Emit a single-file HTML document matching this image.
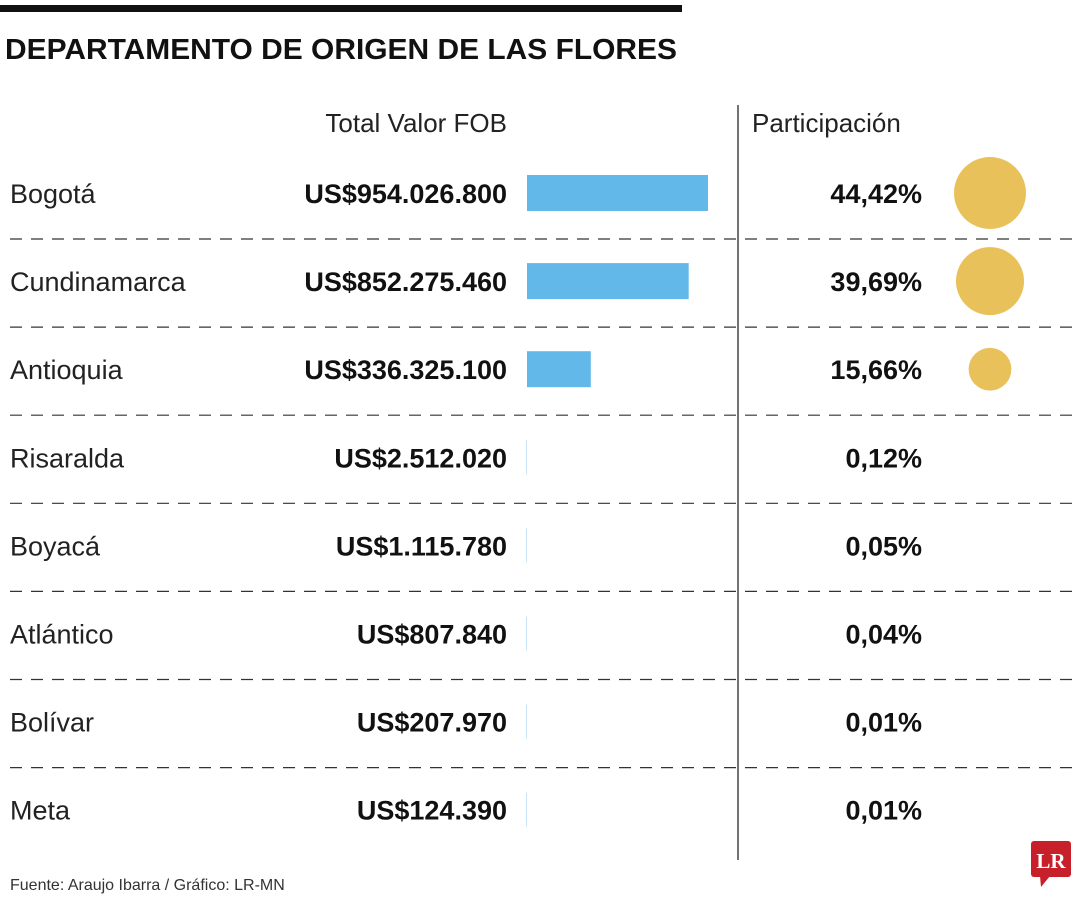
<!DOCTYPE html>
<html><head><meta charset="utf-8"><style>
body{margin:0;width:1080px;height:900px;background:#fff;font-family:"Liberation Sans",sans-serif;overflow:hidden}
svg text{font-family:"Liberation Sans",sans-serif}
</style></head><body>
<svg id="chart" width="1080" height="900">
<rect x="0" y="5" width="682" height="7" fill="#111"/>
<text x="5" y="59" font-size="29" font-weight="bold" fill="#111" textLength="672" lengthAdjust="spacingAndGlyphs">DEPARTAMENTO DE ORIGEN DE LAS FLORES</text>
<text x="507" y="132" font-size="26" text-anchor="end" fill="#222">Total Valor FOB</text>
<text x="752" y="132" font-size="26" fill="#222">Participación</text>
<line x1="738" y1="105" x2="738" y2="860" stroke="#444" stroke-width="1.5"/>
<g id="rows"></g>
<text x="10" y="890" font-size="16" fill="#333">Fuente: Araujo Ibarra / Gráfico: LR-MN</text>
<g>
<rect x="1031" y="841" width="40" height="36" rx="3" fill="#c8202a"/>
<polygon points="1040,876 1050,876 1041,887" fill="#c8202a"/>
<text x="1051" y="868" font-size="21" font-weight="bold" fill="#fff" text-anchor="middle" style="font-family:'Liberation Serif',serif">LR</text>
</g>
</svg>
<script>
const names=["Bogotá","Cundinamarca","Antioquia","Risaralda","Boyacá","Atlántico","Bolívar","Meta"];
const fobValues=[954026800,852275460,336325100,2512020,1115780,807840,207970,124390];
const fobLabels=["US$954.026.800","US$852.275.460","US$336.325.100","US$2.512.020","US$1.115.780","US$807.840","US$207.970","US$124.390"];
const shares=[44.42,39.69,15.66,0.12,0.05,0.04,0.01,0.01];
const shareLabels=["44,42%","39,69%","15,66%","0,12%","0,05%","0,04%","0,01%","0,01%"];
const NS="http://www.w3.org/2000/svg";
const g=document.getElementById('rows');
const rowY=i=>193+i*88.1;
const xBar=v=>v/954026800*181;
const rCircle=p=>5.4*Math.sqrt(p);
function mk(t,a){const e=document.createElementNS(NS,t);for(const k in a)e.setAttribute(k,a[k]);g.appendChild(e);return e;}
names.forEach((n,i)=>{
 const y=rowY(i);
 let e=mk('text',{x:10,y:y+10,'font-size':27,fill:'#222'});e.textContent=n;
 
 
 e=mk('text',{x:507,y:y+10,'font-size':27,'font-weight':'bold','text-anchor':'end',fill:'#111'});e.textContent=fobLabels[i];
 
 
 const w=xBar(fobValues[i]);
 if(w>=2){e=mk('rect',{x:527,y:y-18,width:w,height:36,fill:'#62b8e8'});}
 else{e=mk('rect',{x:526,y:y-17,width:1,height:34,fill:'#c7e3f4'});}
 
 
 e=mk('text',{x:922,y:y+10,'font-size':27,'font-weight':'bold','text-anchor':'end',fill:'#111'});e.textContent=shareLabels[i];
 
 
 const r=rCircle(shares[i]);
 if(r>3){e=mk('circle',{cx:990,cy:y,r:r,fill:'#e9c15a'});
 
 }
 if(i<names.length-1){e=mk('line',{x1:10,y1:y+46,x2:1072,y2:y+46,stroke:'#333','stroke-width':1.2,'stroke-dasharray':'12,9'});
 
 }
});
</script>
</body></html>
